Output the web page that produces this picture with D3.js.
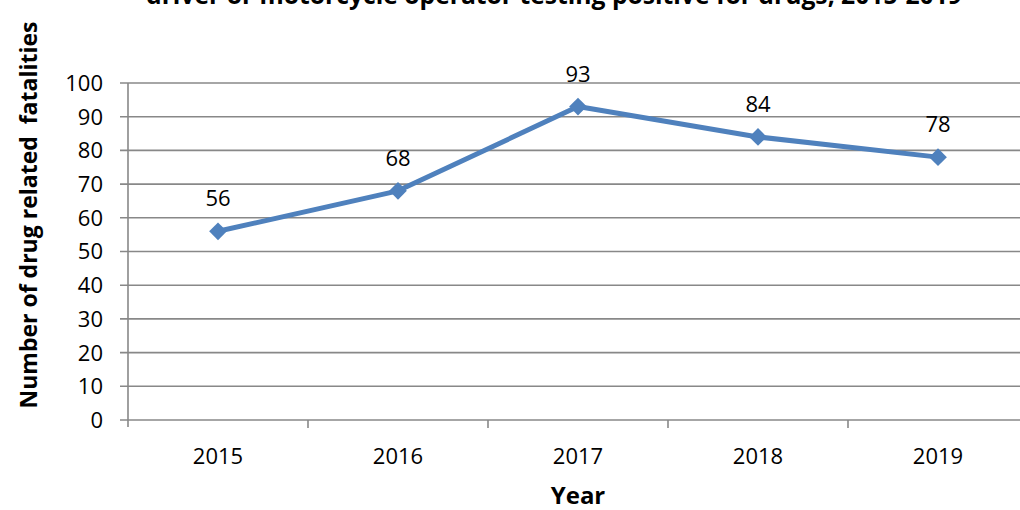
<!DOCTYPE html>
<html>
<head>
<meta charset="utf-8">
<script src="https://cdn.jsdelivr.net/npm/d3@7"></script>
<style>
  html, body { margin: 0; padding: 0; background: #ffffff; }
  svg { display: block; }
</style>
</head>
<body>
<svg id="chart" width="1020" height="510"></svg>
<script>
// Drug-related fatalities by year
const years = ["2015", "2016", "2017", "2018", "2019"];
const fatalities = [56, 68, 93, 84, 78];
const yTicks = [0, 10, 20, 30, 40, 50, 60, 70, 80, 90, 100];

const titleText = "driver or motorcycle operator testing positive for drugs, 2015-2019";
const xTitle = "Year";
const yTitle = "Number of drug related  fatalities";

const width = 1020, height = 510;
const margin = { left: 128, right: -8, top: 83, bottom: 90 };

const svg = d3.select("#chart");
const font = "'Open Sans', 'Liberation Sans', sans-serif";

const x = d3.scaleBand()
  .domain(years)
  .range([margin.left, width - margin.right]);

const y = d3.scaleLinear()
  .domain([0, 100])
  .range([height - margin.bottom, margin.top]);

const gridColor = "#888888";

// horizontal gridlines with short outward ticks
svg.append("g")
  .selectAll("line")
  .data(yTicks)
  .join("line")
  .attr("x1", margin.left - 8)
  .attr("x2", width)
  .attr("y1", d => y(d))
  .attr("y2", d => y(d))
  .attr("stroke", gridColor)
  .attr("stroke-width", 1.6);

// vertical axis line
svg.append("line")
  .attr("x1", margin.left).attr("x2", margin.left)
  .attr("y1", y(100)).attr("y2", y(0) + 7)
  .attr("stroke", gridColor).attr("stroke-width", 1.6);

// category separators below the baseline
const separators = years.slice(1).map(d => x(d));
svg.append("g")
  .selectAll("line")
  .data(separators)
  .join("line")
  .attr("x1", d => d).attr("x2", d => d)
  .attr("y1", y(0)).attr("y2", y(0) + 8)
  .attr("stroke", gridColor).attr("stroke-width", 1.6);

// y tick labels
svg.append("g")
  .selectAll("text")
  .data(yTicks)
  .join("text")
  .attr("x", margin.left - 25)
  .attr("y", d => y(d))
  .attr("dy", "0.36em")
  .attr("text-anchor", "end")
  .attr("font-family", font)
  .attr("font-size", 22)
  .attr("fill", "#000")
  .text(d => d);

// x tick labels
svg.append("g")
  .selectAll("text")
  .data(years)
  .join("text")
  .attr("x", d => x(d) + x.bandwidth() / 2)
  .attr("y", y(0) + 44)
  .attr("text-anchor", "middle")
  .attr("font-family", font)
  .attr("font-size", 22)
  .attr("fill", "#000")
  .text(d => d);

// series line
const pts = years.map((yr, i) => ({ yr, v: fatalities[i] }));
const line = d3.line()
  .x(d => x(d.yr) + x.bandwidth() / 2)
  .y(d => y(d.v));

const lineColor = "#4F81BD";
svg.append("path")
  .datum(pts)
  .attr("d", line)
  .attr("fill", "none")
  .attr("stroke", lineColor)
  .attr("stroke-width", 5)
  .attr("stroke-linejoin", "round");

// diamond markers
const diamond = d3.symbol().type(d3.symbolDiamond2).size(200);
svg.append("g")
  .selectAll("path")
  .data(pts)
  .join("path")
  .attr("transform", d => `translate(${x(d.yr) + x.bandwidth() / 2},${y(d.v)})`)
  .attr("d", diamond)
  .attr("fill", lineColor);

// value labels
svg.append("g")
  .selectAll("text")
  .data(pts)
  .join("text")
  .attr("x", d => x(d.yr) + x.bandwidth() / 2)
  .attr("y", d => y(d.v) - 25)
  .attr("text-anchor", "middle")
  .attr("font-family", font)
  .attr("font-size", 22)
  .attr("fill", "#000")
  .text(d => d.v);

// chart title, running past the top edge
svg.append("text")
  .attr("x", 554)
  .attr("y", 4)
  .attr("text-anchor", "middle")
  .attr("font-family", font)
  .attr("font-weight", "bold")
  .attr("font-size", 24.7)
  .attr("fill", "#000")
  .text(titleText);

// axis titles
svg.append("text")
  .attr("x", x(years[2]) + x.bandwidth() / 2)
  .attr("y", 504)
  .attr("text-anchor", "middle")
  .attr("font-family", font)
  .attr("font-weight", "bold")
  .attr("font-size", 24)
  .attr("fill", "#000")
  .text(xTitle);

svg.append("text")
  .attr("transform", "translate(37,215) rotate(-90)")
  .attr("text-anchor", "middle")
  .attr("font-family", font)
  .attr("font-weight", "bold")
  .attr("font-size", 23)
  .attr("fill", "#000")
  .style("white-space", "pre")
  .text(yTitle);
</script>
</body>
</html>
